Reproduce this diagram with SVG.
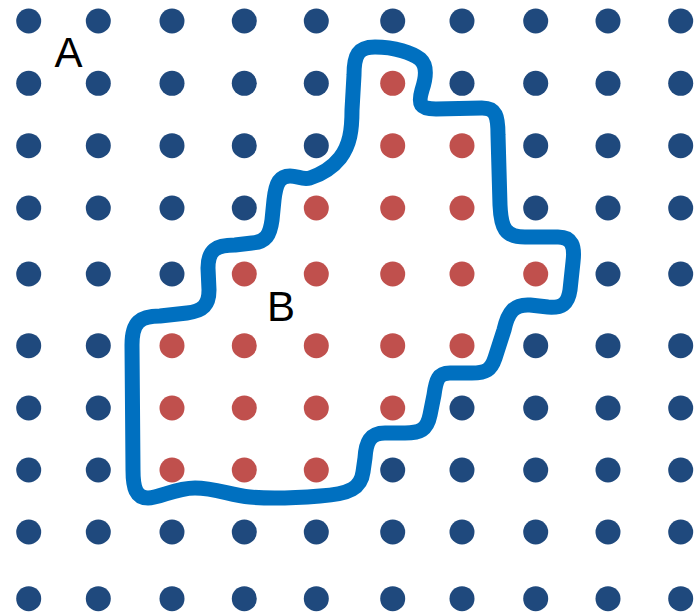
<svg xmlns="http://www.w3.org/2000/svg" width="696" height="613" viewBox="0 0 696 613">
<style>
.a{fill:#1F497D}
.b{fill:#C0504D}
.edge{fill:none;stroke:#0070C0;stroke-width:15;stroke-linejoin:round;stroke-linecap:round}
.lbl{font-family:"Liberation Sans",Arial,sans-serif;font-size:42px;fill:#000}
</style>
<rect width="696" height="613" fill="#fff"/>
<g id="dots-A">
<!-- row 1 -->
<circle class="a" cx="28.7" cy="21" r="12.5"/><circle class="a" cx="98.3" cy="21" r="12.5"/><circle class="a" cx="172" cy="21" r="12.5"/><circle class="a" cx="244.3" cy="21" r="12.5"/><circle class="a" cx="316.3" cy="21" r="12.5"/><circle class="a" cx="392.7" cy="21" r="12.5"/><circle class="a" cx="462" cy="21" r="12.5"/><circle class="a" cx="535.7" cy="21" r="12.5"/><circle class="a" cx="608" cy="21" r="12.5"/><circle class="a" cx="680.7" cy="21" r="12.5"/>
<!-- row 2 -->
<circle class="a" cx="28.7" cy="83.3" r="12.5"/><circle class="a" cx="98.3" cy="83.3" r="12.5"/><circle class="a" cx="172" cy="83.3" r="12.5"/><circle class="a" cx="244.3" cy="83.3" r="12.5"/><circle class="a" cx="316.3" cy="83.3" r="12.5"/><circle class="a" cx="462" cy="83.3" r="12.5"/><circle class="a" cx="535.7" cy="83.3" r="12.5"/><circle class="a" cx="608" cy="83.3" r="12.5"/><circle class="a" cx="680.7" cy="83.3" r="12.5"/>
<!-- row 3 -->
<circle class="a" cx="28.7" cy="145.7" r="12.5"/><circle class="a" cx="98.3" cy="145.7" r="12.5"/><circle class="a" cx="172" cy="145.7" r="12.5"/><circle class="a" cx="244.3" cy="145.7" r="12.5"/><circle class="a" cx="316.3" cy="145.7" r="12.5"/><circle class="a" cx="535.7" cy="145.7" r="12.5"/><circle class="a" cx="608" cy="145.7" r="12.5"/><circle class="a" cx="680.7" cy="145.7" r="12.5"/>
<!-- row 4 -->
<circle class="a" cx="28.7" cy="208" r="12.5"/><circle class="a" cx="98.3" cy="208" r="12.5"/><circle class="a" cx="172" cy="208" r="12.5"/><circle class="a" cx="244.3" cy="208" r="12.5"/><circle class="a" cx="535.7" cy="208" r="12.5"/><circle class="a" cx="608" cy="208" r="12.5"/><circle class="a" cx="680.7" cy="208" r="12.5"/>
<!-- row 5 -->
<circle class="a" cx="28.7" cy="274" r="12.5"/><circle class="a" cx="98.3" cy="274" r="12.5"/><circle class="a" cx="172" cy="274" r="12.5"/><circle class="a" cx="608" cy="274" r="12.5"/><circle class="a" cx="680.7" cy="274" r="12.5"/>
<!-- row 6 -->
<circle class="a" cx="28.7" cy="345.7" r="12.5"/><circle class="a" cx="98.3" cy="345.7" r="12.5"/><circle class="a" cx="535.7" cy="345.7" r="12.5"/><circle class="a" cx="608" cy="345.7" r="12.5"/><circle class="a" cx="680.7" cy="345.7" r="12.5"/>
<!-- row 7 -->
<circle class="a" cx="28.7" cy="408" r="12.5"/><circle class="a" cx="98.3" cy="408" r="12.5"/><circle class="a" cx="462" cy="408" r="12.5"/><circle class="a" cx="535.7" cy="408" r="12.5"/><circle class="a" cx="608" cy="408" r="12.5"/><circle class="a" cx="680.7" cy="408" r="12.5"/>
<!-- row 8 -->
<circle class="a" cx="28.7" cy="470" r="12.5"/><circle class="a" cx="98.3" cy="470" r="12.5"/><circle class="a" cx="392.7" cy="470" r="12.5"/><circle class="a" cx="462" cy="470" r="12.5"/><circle class="a" cx="535.7" cy="470" r="12.5"/><circle class="a" cx="608" cy="470" r="12.5"/><circle class="a" cx="680.7" cy="470" r="12.5"/>
<!-- row 9 -->
<circle class="a" cx="28.7" cy="532" r="12.5"/><circle class="a" cx="98.3" cy="532" r="12.5"/><circle class="a" cx="172" cy="532" r="12.5"/><circle class="a" cx="244.3" cy="532" r="12.5"/><circle class="a" cx="316.3" cy="532" r="12.5"/><circle class="a" cx="392.7" cy="532" r="12.5"/><circle class="a" cx="462" cy="532" r="12.5"/><circle class="a" cx="535.7" cy="532" r="12.5"/><circle class="a" cx="608" cy="532" r="12.5"/><circle class="a" cx="680.7" cy="532" r="12.5"/>
<!-- row 10 -->
<circle class="a" cx="28.7" cy="598.7" r="12.5"/><circle class="a" cx="98.3" cy="598.7" r="12.5"/><circle class="a" cx="172" cy="598.7" r="12.5"/><circle class="a" cx="244.3" cy="598.7" r="12.5"/><circle class="a" cx="316.3" cy="598.7" r="12.5"/><circle class="a" cx="392.7" cy="598.7" r="12.5"/><circle class="a" cx="462" cy="598.7" r="12.5"/><circle class="a" cx="535.7" cy="598.7" r="12.5"/><circle class="a" cx="608" cy="598.7" r="12.5"/><circle class="a" cx="680.7" cy="598.7" r="12.5"/>
</g>
<g id="dots-B">
<circle class="b" cx="392.7" cy="83.3" r="12.5"/>
<circle class="b" cx="392.7" cy="145.7" r="12.5"/><circle class="b" cx="462" cy="145.7" r="12.5"/>
<circle class="b" cx="316.3" cy="208" r="12.5"/><circle class="b" cx="392.7" cy="208" r="12.5"/><circle class="b" cx="462" cy="208" r="12.5"/>
<circle class="b" cx="244.3" cy="274" r="12.5"/><circle class="b" cx="316.3" cy="274" r="12.5"/><circle class="b" cx="392.7" cy="274" r="12.5"/><circle class="b" cx="462" cy="274" r="12.5"/><circle class="b" cx="535.7" cy="274" r="12.5"/>
<circle class="b" cx="172" cy="345.7" r="12.5"/><circle class="b" cx="244.3" cy="345.7" r="12.5"/><circle class="b" cx="316.3" cy="345.7" r="12.5"/><circle class="b" cx="392.7" cy="345.7" r="12.5"/><circle class="b" cx="462" cy="345.7" r="12.5"/>
<circle class="b" cx="172" cy="408" r="12.5"/><circle class="b" cx="244.3" cy="408" r="12.5"/><circle class="b" cx="316.3" cy="408" r="12.5"/><circle class="b" cx="392.7" cy="408" r="12.5"/>
<circle class="b" cx="172" cy="470" r="12.5"/><circle class="b" cx="244.3" cy="470" r="12.5"/><circle class="b" cx="316.3" cy="470" r="12.5"/>
</g>
<g id="boundary">
<path class="edge" d="M 354,75 C 354,55 358,47 375,47 C 395,47 412,53 420,59 C 428,66 426,78 422,90 C 418,104 420,109 436,109 L 482,108 C 496,108 498,116 498,135 L 500,205 C 501,228 505,237 525,237 L 558,237 C 572,237 575,246 573,262 L 570,290 C 568,304 562,308 548,307 L 530,305 C 514,304 508,312 504,330 L 495,358 C 491,370 486,373 472,373 L 450,373 C 438,373 436,380 434,395 L 430,415 C 427,430 420,433 405,433 L 385,433 C 370,433 366,442 365,458 L 363,472 C 361,488 350,494 320,496 C 295,498 270,499 250,497 C 230,495 215,488 195,488 C 175,488 160,498 148,498 C 136,498 133,488 133,470 L 132,345 C 132,322 140,316 160,316 L 187,313 C 203,311 209,305 209,290 L 208,268 C 208,250 216,245 235,245 L 252,243 C 266,242 270,235 272,220 L 274,200 C 276,182 280,176 290,176 C 298,176 302,180 310,178 C 322,174 332,168 340,158 C 350,145 352,130 352,110 Z"/>
</g>
<g id="labels">
<text class="lbl" x="68.5" y="66.5" text-anchor="middle">A</text>
<text class="lbl" x="281" y="320.5" text-anchor="middle">B</text>
</g>
</svg>
